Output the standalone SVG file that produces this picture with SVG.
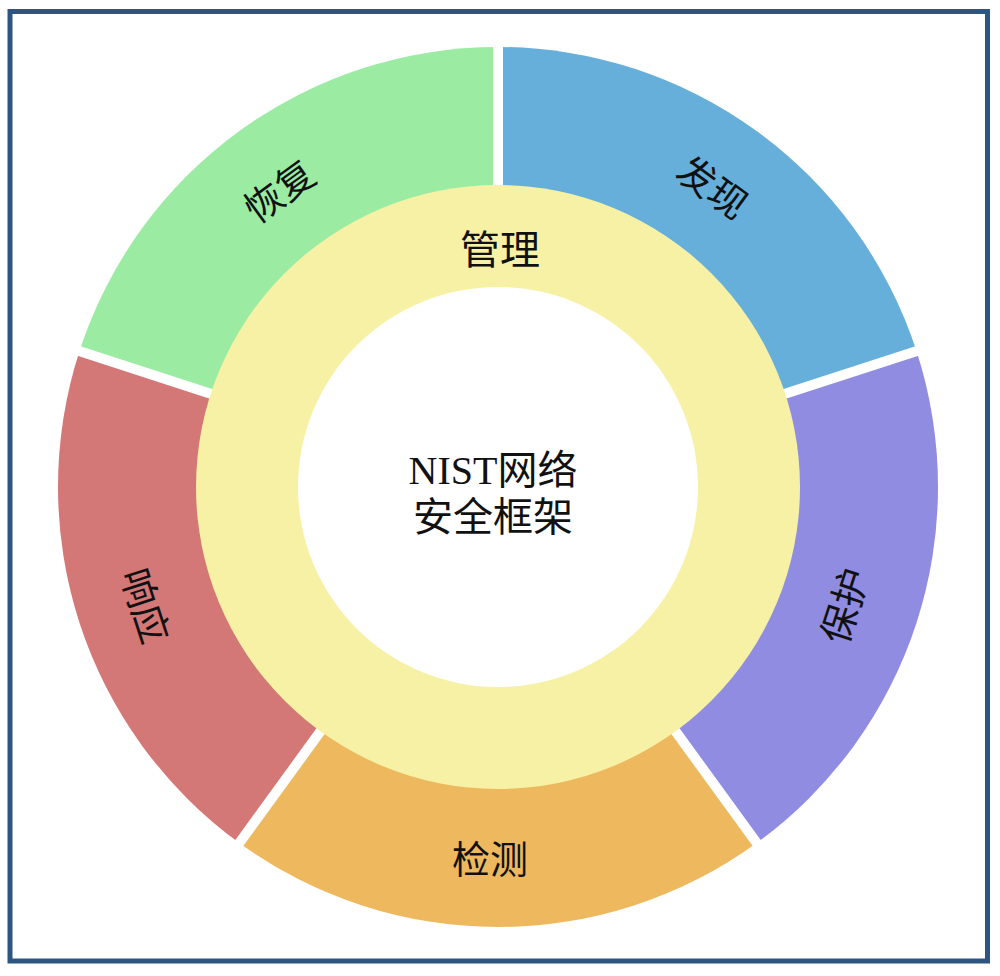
<svg xmlns="http://www.w3.org/2000/svg" width="1000" height="976" viewBox="0 0 1000 976">
<style>
.lbl{font-family:"Liberation Serif","Noto Sans CJK SC",serif;font-size:38px;fill:#111;text-anchor:middle;dominant-baseline:central}
.ctr{font-family:"Liberation Serif","Noto Sans CJK SC",serif;font-size:40px;fill:#111;text-anchor:middle}
.gap{stroke:#fff;stroke-width:10}
</style>
<rect x="0" y="0" width="1000" height="976" fill="#fff"/>
<rect x="10" y="11.5" width="977.5" height="949.5" fill="#fff" stroke="#2E5580" stroke-width="5"/>
<g id="discover">
<path d="M498,487 L498,47 A440,440 0 0 1 916.47,351.03 Z" fill="#66AFDA"/>
<text class="lbl" transform="translate(712,188) rotate(36)">发现</text>
</g>
<g id="protect">
<path d="M498,487 L916.47,351.03 A440,440 0 0 1 756.63,842.97 Z" fill="#8F8CE2"/>
<text class="lbl" transform="translate(846,606) rotate(-72)">保护</text>
</g>
<g id="detect">
<path d="M498,487 L756.63,842.97 A440,440 0 0 1 239.37,842.97 Z" fill="#EDB85E"/>
<text class="lbl" transform="translate(490,860)">检测</text>
</g>
<g id="respond">
<path d="M498,487 L239.37,842.97 A440,440 0 0 1 79.53,351.03 Z" fill="#D47777"/>
<text class="lbl" transform="translate(144,606) rotate(72)">响应</text>
</g>
<g id="recover">
<path d="M498,487 L79.53,351.03 A440,440 0 0 1 498,47 Z" fill="#9BEBA3"/>
<text class="lbl" transform="translate(280,192) rotate(-36)">恢复</text>
</g>
<g id="connectors">
<line class="gap" x1="498" y1="487" x2="498" y2="40"/>
<line class="gap" x1="498" y1="487" x2="923.1" y2="348.9"/>
<line class="gap" x1="498" y1="487" x2="760.8" y2="848.6"/>
<line class="gap" x1="498" y1="487" x2="235.2" y2="848.6"/>
<line class="gap" x1="498" y1="487" x2="72.9" y2="348.9"/>
</g>
<g id="govern">
<circle cx="498" cy="487" r="302" fill="#F7F1A6"/>
<text class="lbl" x="500" y="250" style="font-size:40px">管理</text>
</g>
<g id="core">
<circle cx="498" cy="487" r="200" fill="#fff"/>
<text class="ctr" x="493" y="484">NIST网络</text>
<text class="ctr" x="493" y="531">安全框架</text>
</g>
</svg>
